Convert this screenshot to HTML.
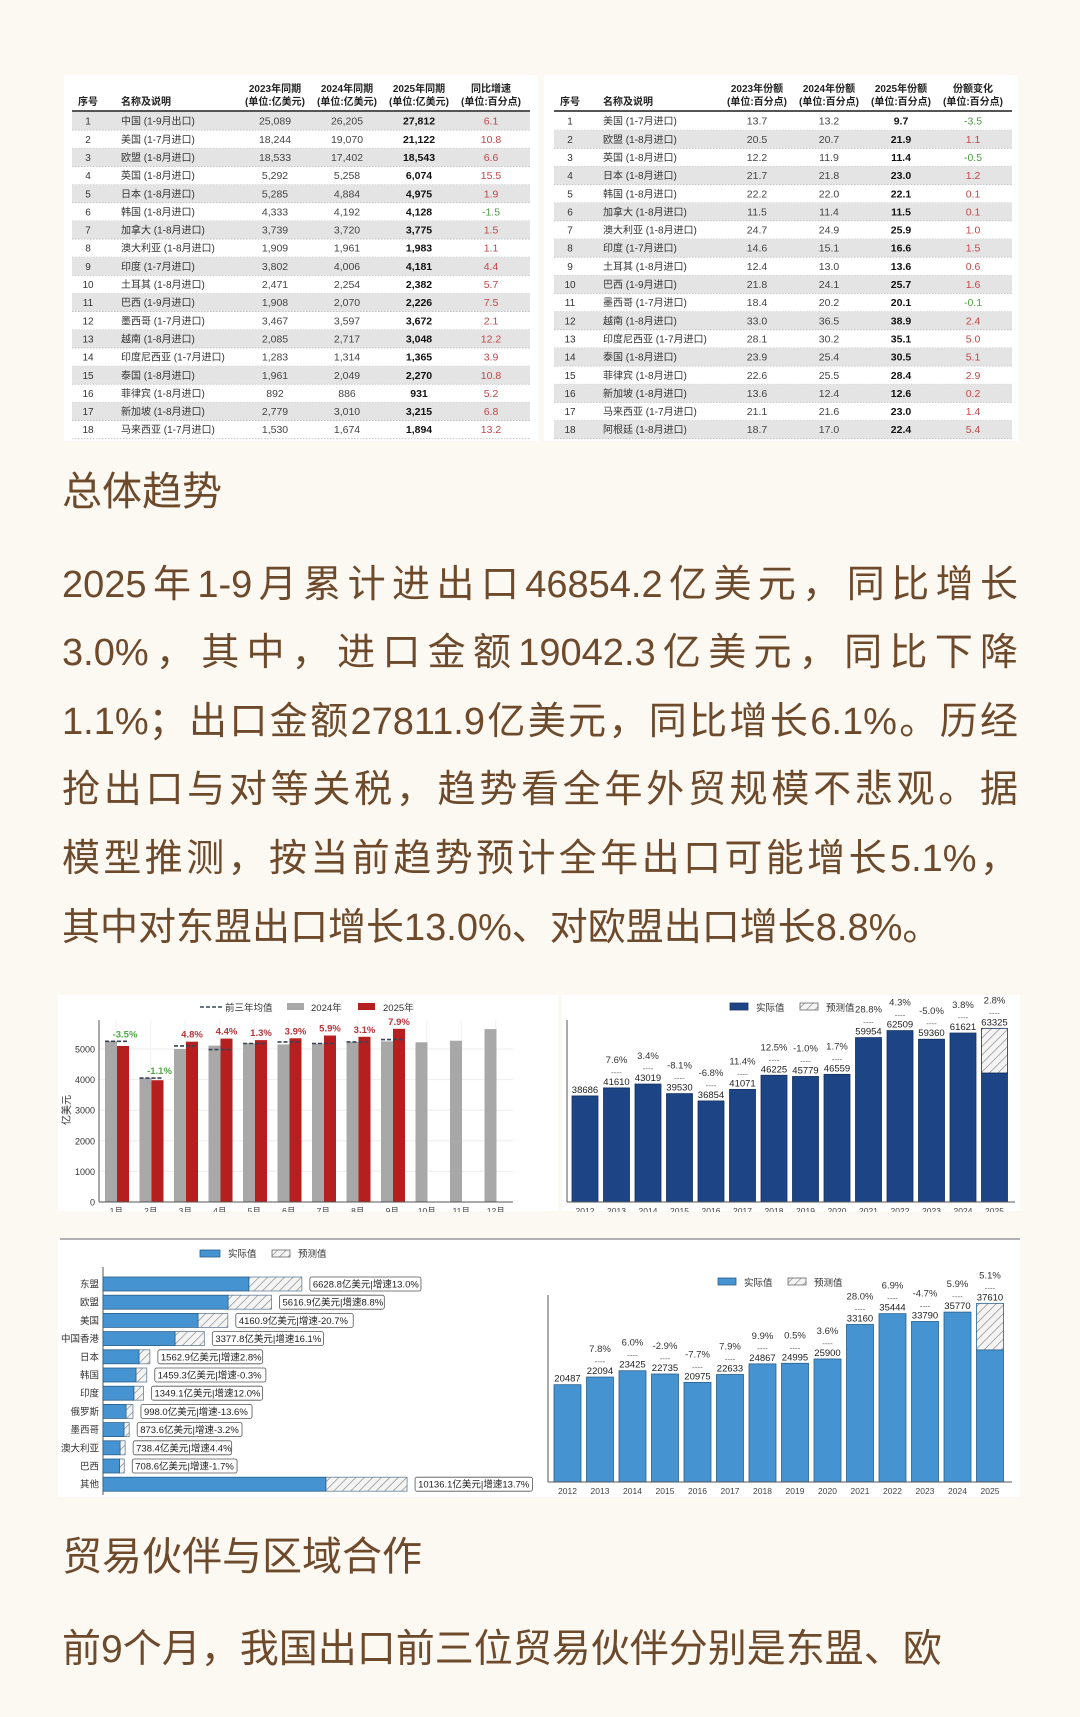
<!DOCTYPE html>
<html><head><meta charset="utf-8">
<style>
html,body{margin:0;padding:0;}
body{width:1080px;height:1717px;background:#fcf8f2;position:relative;overflow:hidden;font-family:"Liberation Sans","Noto Sans CJK SC",sans-serif;}
#art{position:absolute;left:0;top:0;}
.h{position:absolute;left:62px;font-size:40px;color:#6e4a2c;line-height:50px;white-space:nowrap;}
.p{position:absolute;left:62px;width:956px;font-size:38px;color:#6e4a2c;line-height:60px;white-space:nowrap;}
.j{text-align:justify;text-align-last:justify;}
</style></head>
<body>
<svg id="art" width="1080" height="1717" xmlns="http://www.w3.org/2000/svg" font-family="Liberation Sans, Noto Sans CJK SC, sans-serif">
<defs>
<pattern id="hatch" width="6" height="6" patternUnits="userSpaceOnUse" patternTransform="rotate(45)">
<rect width="6" height="6" fill="#f4f4f4"/><line x1="0" y1="0" x2="0" y2="6" stroke="#777" stroke-width="1.2"/>
</pattern>
</defs>
<rect x="64" y="75" width="474" height="366" fill="#fff"/>
<rect x="544" y="75" width="474" height="366" fill="#fff"/>
<g id="t1"></g>
<g id="t2"></g>
<rect x="58" y="995" width="500" height="216" fill="#fff"/>
<rect x="562" y="995" width="458" height="216" fill="#fff"/>
<g id="c1"></g>
<g id="c2"></g>
<rect x="0" y="1212" width="1080" height="26" fill="#fcf8f2"/>
<rect x="58" y="1239" width="962" height="258" fill="#fff"/>
<line x1="60" y1="1239" x2="1020" y2="1239" stroke="#999" stroke-width="1.5"/>
<g id="c3"></g>
<g id="c4"></g>
<rect x="0" y="1497" width="1080" height="30" fill="#fcf8f2"/>
</svg>

<div class="h" style="top:467px">总体趋势</div>
<div>
<div class="p j" style="top:555px">2025年1-9月累计进出口46854.2亿美元，同比增长</div>
<div class="p j" style="top:623px">3.0%，其中，进口金额19042.3亿美元，同比下降</div>
<div class="p j" style="top:692px">1.1%；出口金额27811.9亿美元，同比增长6.1%。历经</div>
<div class="p j" style="top:760px">抢出口与对等关税，趋势看全年外贸规模不悲观。据</div>
<div class="p j" style="top:829px">模型推测，按当前趋势预计全年出口可能增长5.1%，</div>
<div class="p" style="top:898px">其中对东盟出口增长13.0%、对欧盟出口增长8.8%。</div>
</div>
<div class="h" style="top:1532px">贸易伙伴与区域合作</div>
<div class="p" style="top:1620px;font-size:39px">前9个月，我国出口前三位贸易伙伴分别是东盟、欧</div>

<script>
// ---- table data ----
const t1Names=["中国 (1-9月出口)","美国 (1-7月进口)","欧盟 (1-8月进口)","英国 (1-8月进口)","日本 (1-8月进口)","韩国 (1-8月进口)","加拿大 (1-8月进口)","澳大利亚 (1-8月进口)","印度 (1-7月进口)","土耳其 (1-8月进口)","巴西 (1-9月进口)","墨西哥 (1-7月进口)","越南 (1-8月进口)","印度尼西亚 (1-7月进口)","泰国 (1-8月进口)","菲律宾 (1-8月进口)","新加坡 (1-8月进口)","马来西亚 (1-7月进口)"];
const t1Y23=["25,089","18,244","18,533","5,292","5,285","4,333","3,739","1,909","3,802","2,471","1,908","3,467","2,085","1,283","1,961","892","2,779","1,530"];
const t1Y24=["26,205","19,070","17,402","5,258","4,884","4,192","3,720","1,961","4,006","2,254","2,070","3,597","2,717","1,314","2,049","886","3,010","1,674"];
const t1Y25=["27,812","21,122","18,543","6,074","4,975","4,128","3,775","1,983","4,181","2,382","2,226","3,672","3,048","1,365","2,270","931","3,215","1,894"];
const t1Chg=["6.1","10.8","6.6","15.5","1.9","-1.5","1.5","1.1","4.4","5.7","7.5","2.1","12.2","3.9","10.8","5.2","6.8","13.2"];
const t2Names=["美国 (1-7月进口)","欧盟 (1-8月进口)","英国 (1-8月进口)","日本 (1-8月进口)","韩国 (1-8月进口)","加拿大 (1-8月进口)","澳大利亚 (1-8月进口)","印度 (1-7月进口)","土耳其 (1-8月进口)","巴西 (1-9月进口)","墨西哥 (1-7月进口)","越南 (1-8月进口)","印度尼西亚 (1-7月进口)","泰国 (1-8月进口)","菲律宾 (1-8月进口)","新加坡 (1-8月进口)","马来西亚 (1-7月进口)","阿根廷 (1-8月进口)"];
const t2Y23=["13.7","20.5","12.2","21.7","22.2","11.5","24.7","14.6","12.4","21.8","18.4","33.0","28.1","23.9","22.6","13.6","21.1","18.7"];
const t2Y24=["13.2","20.7","11.9","21.8","22.0","11.4","24.9","15.1","13.0","24.1","20.2","36.5","30.2","25.4","25.5","12.4","21.6","17.0"];
const t2Y25=["9.7","21.9","11.4","23.0","22.1","11.5","25.9","16.6","13.6","25.7","20.1","38.9","35.1","30.5","28.4","12.6","23.0","22.4"];
const t2Chg=["-3.5","1.1","-0.5","1.2","0.1","0.1","1.0","1.5","0.6","1.6","-0.1","2.4","5.0","5.1","2.9","0.2","1.4","5.4"];
const t1Head=[["序号",""],["名称及说明",""],["2023年同期","(单位:亿美元)"],["2024年同期","(单位:亿美元)"],["2025年同期","(单位:亿美元)"],["同比增速","(单位:百分点)"]];
const t2Head=[["序号",""],["名称及说明",""],["2023年份额","(单位:百分点)"],["2024年份额","(单位:百分点)"],["2025年份额","(单位:百分点)"],["份额变化","(单位:百分点)"]];

// ---- chart 1 data (monthly exports, 亿美元) ----
const months=["1月","2月","3月","4月","5月","6月","7月","8月","9月","10月","11月","12月"];
const v2024=[5260,4050,5000,5110,5190,5150,5180,5230,5250,5220,5270,5650];
const v2025=[5100,3980,5240,5340,5290,5350,5440,5400,5660];
const avg3=[5250,4050,5100,4980,5180,5230,5180,5230,5310];
const pct2025=["-3.5%","-1.1%","4.8%","4.4%","1.3%","3.9%","5.9%","3.1%","7.9%"];
const yTicks1=[0,1000,2000,3000,4000,5000];

// ---- chart 2 data (annual exports) ----
const years=["2012","2013","2014","2015","2016","2017","2018","2019","2020","2021","2022","2023","2024","2025"];
const exportTotal=[38686,41610,43019,39530,36854,41071,46225,45779,46559,59954,62509,59360,61621,63325];
const exportActual=[38686,41610,43019,39530,36854,41071,46225,45779,46559,59954,62509,59360,61621,47000];
const exportPct=["","7.6%","3.4%","-8.1%","-6.8%","11.4%","12.5%","-1.0%","1.7%","28.8%","4.3%","-5.0%","3.8%","2.8%"];

// ---- chart 3 data (partners) ----
const partners=["东盟","欧盟","美国","中国香港","日本","韩国","印度","俄罗斯","墨西哥","澳大利亚","巴西","其他"];
const partnerActual=[4860,4170,3170,2400,1200,1100,1030,770,700,570,550,7430];
const partnerTotal=[6628.8,5616.9,4160.9,3377.8,1562.9,1459.3,1349.1,998.0,873.6,738.4,708.6,10136.1];
const partnerGrowth=["13.0%","8.8%","-20.7%","16.1%","2.8%","-0.3%","12.0%","-13.6%","-3.2%","4.4%","-1.7%","13.7%"];

// ---- chart 4 data (annual imports) ----
const importTotal=[20487,22094,23425,22735,20975,22633,24867,24995,25900,33160,35444,33790,35770,37610];
const importActual=[20487,22094,23425,22735,20975,22633,24867,24995,25900,33160,35444,33790,35770,27800];
const importPct=["","7.8%","6.0%","-2.9%","-7.7%","7.9%","9.9%","0.5%","3.6%","28.0%","6.9%","-4.7%","5.9%","5.1%"];

const NS="http://www.w3.org/2000/svg";
function mk(parent,tag,attrs,txt){const e=document.createElementNS(NS,tag);for(const k in attrs)e.setAttribute(k,attrs[k]);if(txt!==undefined)e.textContent=txt;parent.appendChild(e);return e;}

// ---- tables ----
function table(g,x0,x1,cols,head,names,a,b,c,d,shadeOdd){
  head.forEach((h,i)=>{
    const anchor=i===1?'start':'middle';
    const t=mk(g,'text',{x:cols[i],y:h[1]?92:105,'font-size':10,'font-weight':'bold','text-anchor':anchor,fill:'#222'},h[0]);
    
    
    if(h[1]){const t2=mk(g,'text',{x:cols[i],y:105,'font-size':10,'font-weight':'bold','text-anchor':anchor,fill:'#222'},h[1]);
    
    }
  });
  const rh=18.15, y0=112;
  names.forEach((n,r)=>{
    const y=y0+r*rh;
    if((r%2===0)===shadeOdd){const bg=mk(g,'rect',{x:x0,y:y,width:x1-x0,height:rh,fill:'#e4e4e4'});
      
      }
    mk(g,'line',{x1:x0,x2:x1,y1:y+rh,y2:y+rh,stroke:'#bbb','stroke-dasharray':'1.5 1.5','stroke-width':0.8});
    const cy=y+rh/2+3.6;
    const row=mk(g,'g',{});
    
    
    mk(row,'text',{x:cols[0],y:cy,'font-size':10,'text-anchor':'middle',fill:'#333'},String(r+1));
    mk(row,'text',{x:cols[1],y:cy,'font-size':10,fill:'#333'},n);
    mk(row,'text',{x:cols[2],y:cy,'font-size':10.5,'text-anchor':'middle',fill:'#444'},a[r]);
    mk(row,'text',{x:cols[3],y:cy,'font-size':10.5,'text-anchor':'middle',fill:'#444'},b[r]);
    mk(row,'text',{x:cols[4],y:cy,'font-size':10.5,'font-weight':'bold','text-anchor':'middle',fill:'#111'},c[r]);
    const neg=d[r].charAt(0)==='-';
    mk(row,'text',{x:cols[5],y:cy,'font-size':10.5,'text-anchor':'middle',fill:neg?'#4f9a45':'#c0474a'},d[r]);
  });
  mk(g,'line',{x1:x0,x2:x1,y1:111,y2:111,stroke:'#555','stroke-width':2});
}
table(document.getElementById('t1'),72,530,[88,121,275,347,419,491],t1Head,t1Names,t1Y23,t1Y24,t1Y25,t1Chg,true);
table(document.getElementById('t2'),554,1012,[570,603,757,829,901,973],t2Head,t2Names,t2Y23,t2Y24,t2Y25,t2Chg,false);

// ---- chart 1 ----
(function(){
  const g=document.getElementById('c1');
  const base=1202, k=30.6/1000, left=99, right=513, gw=34.5;
  const Y=v=>base-v*k;
  yTicks1.forEach(t=>{
    mk(g,'line',{x1:left,x2:right,y1:Y(t),y2:Y(t),stroke:'#eee','stroke-width':1});
    const tx=mk(g,'text',{x:95,y:Y(t)+3.5,'font-size':9,'text-anchor':'end',fill:'#333'},String(t));
    
    
  });
  for(let i=0;i<12;i++){const x=left+i*gw+gw/2;mk(g,'line',{x1:x,x2:x,y1:1020,y2:base,stroke:'#f0f0f0'});}
  const yl=mk(g,'text',{x:0,y:0,'font-size':10,'text-anchor':'middle',fill:'#333',transform:'translate(70,1110) rotate(-90)'},'亿美元');
  
  
  v2024.forEach((v,i)=>{
    const x=left+i*gw+6;
    const r=mk(g,'rect',{x:x,y:Y(v),width:12,height:v*k,fill:'#a8a8a8'});
    
    
  });
  v2025.forEach((v,i)=>{
    const x=left+i*gw+18;
    const r=mk(g,'rect',{x:x,y:Y(v),width:12,height:v*k,fill:'#b51f1f'});
    
    
    const neg=pct2025[i].charAt(0)==='-';
    const t=mk(g,'text',{x:x+6+(neg?2:0),y:Math.min(Y(v),Y(avg3[i]))-4,'font-size':9.5,'font-weight':'bold','text-anchor':'middle',fill:neg?'#4fa845':'#b5353a'},pct2025[i]);
    
    
  });
  avg3.forEach((v,i)=>{
    const x=left+i*gw+6;
    const l=mk(g,'line',{x1:x,x2:x+24,y1:Y(v),y2:Y(v),stroke:'#3a4255','stroke-width':1.6,'stroke-dasharray':'4 2'});
    
    
  });
  mk(g,'line',{x1:left,x2:left,y1:1020,y2:base,stroke:'#555'});
  mk(g,'line',{x1:left,x2:right,y1:base,y2:base,stroke:'#555'});
  months.forEach((m,i)=>{
    const t=mk(g,'text',{x:left+i*gw+gw/2,y:base+12,'font-size':8.5,'text-anchor':'middle',fill:'#444'},m);
    
    
  });
  const lg=mk(g,'g',{});
  
  
  mk(lg,'line',{x1:200,x2:222,y1:1007,y2:1007,stroke:'#3a4255','stroke-width':1.5,'stroke-dasharray':'4 2'});
  mk(lg,'text',{x:225,y:1011,'font-size':9.5,fill:'#333'},'前三年均值');
  mk(lg,'rect',{x:287,y:1003,width:17,height:7,fill:'#a8a8a8'});
  mk(lg,'text',{x:311,y:1011,'font-size':9.5,fill:'#333'},'2024年');
  mk(lg,'rect',{x:358,y:1003,width:17,height:7,fill:'#b51f1f'});
  mk(lg,'text',{x:383,y:1011,'font-size':9.5,fill:'#333'},'2025年');
})();

// ---- vertical annual chart ----
function annual(g,base,k,x0,pitch,w,total,actual,pct,color,stroke,axisX0,axisX1,axisTop,legX,legY){
  mk(g,'line',{x1:axisX0,x2:axisX0,y1:axisTop,y2:base,stroke:'#555'});
  total.forEach((v,i)=>{
    const x=x0+i*pitch;
    const a=actual[i];
    if(v>a){const h=mk(g,'rect',{x:x,y:base-v*k,width:w,height:(v-a)*k,fill:'url(#hatch)',stroke:stroke,'stroke-width':0.8});
      
      }
    const r=mk(g,'rect',{x:x,y:base-a*k,width:w,height:a*k,fill:color,stroke:stroke,'stroke-width':0.8});
    
    
    const top=base-v*k, cx=x+w/2;
    const vt=mk(g,'text',{x:cx,y:top-3,'font-size':9.5,'text-anchor':'middle',fill:'#222'},String(v));
    
    
    if(pct[i]){
      mk(g,'text',{x:cx,y:top-13,'font-size':8,'text-anchor':'middle',fill:'#666'},'----');
      const pt=mk(g,'text',{x:cx,y:top-25,'font-size':9.5,'text-anchor':'middle',fill:'#333'},pct[i]);
      
      
    }
    const yt=mk(g,'text',{x:cx,y:base+12,'font-size':8.5,'text-anchor':'middle',fill:'#444'},years[i]);
    
    
  });
  mk(g,'line',{x1:axisX0,x2:axisX1,y1:base,y2:base,stroke:'#555'});
  const lg=mk(g,'g',{});
  
  
  mk(lg,'rect',{x:legX,y:legY-4,width:18,height:7,fill:color,stroke:stroke,'stroke-width':0.8});
  mk(lg,'text',{x:legX+26,y:legY+4,'font-size':9.5,fill:'#333'},'实际值');
  mk(lg,'rect',{x:legX+70,y:legY-4,width:18,height:7,fill:'url(#hatch)',stroke:'#666','stroke-width':0.8});
  mk(lg,'text',{x:legX+96,y:legY+4,'font-size':9.5,fill:'#333'},'预测值');
}
annual(document.getElementById('c2'),1202,0.002742,572,31.5,26,exportTotal,exportActual,exportPct,'#1d4586','#142f60',567,1015,1020,730,1007);
annual(document.getElementById('c4'),1482,0.00475,554,32.5,27,importTotal,importActual,importPct,'#4593d0','#2a5f8a',548,1012,1295,718,1282);

// ---- chart 3 horizontal ----
(function(){
  const g=document.getElementById('c3');
  const ax=103, k=0.030, y0=1284, step=18.2, h=14;
  mk(g,'line',{x1:ax,x2:ax,y1:1267,y2:1495,stroke:'#555'});
  partners.forEach((p,i)=>{
    const cy=y0+i*step;
    const a=partnerActual[i], t=partnerTotal[i];
    const hb=mk(g,'rect',{x:ax+a*k,y:cy-h/2,width:(t-a)*k,height:h,fill:'url(#hatch)',stroke:'#6a7f95','stroke-width':0.8});
    
    
    const r=mk(g,'rect',{x:ax,y:cy-h/2,width:a*k,height:h,fill:'#4593d0',stroke:'#2a5f8a','stroke-width':0.8});
    
    
    const lb=mk(g,'text',{x:99,y:cy+3.5,'font-size':9.5,'text-anchor':'end',fill:'#333'},p);
    
    
    const label=t.toFixed(1)+'亿美元|增速'+partnerGrowth[i];
    const bx=ax+t*k+8;
    const bw=label.length*6.3+4;
    const box=mk(g,'rect',{x:bx,y:cy-7,width:bw,height:14,rx:2,fill:'#fff',stroke:'#555','stroke-width':0.8});
    
    
    mk(g,'text',{x:bx+3,y:cy+3.5,'font-size':9.5,fill:'#222'},label);
  });
  const lg=mk(g,'g',{});
  
  
  mk(lg,'rect',{x:200,y:1250,width:20,height:7,fill:'#4593d0',stroke:'#2a5f8a','stroke-width':0.8});
  mk(lg,'text',{x:228,y:1257,'font-size':9.5,fill:'#333'},'实际值');
  mk(lg,'rect',{x:272,y:1250,width:18,height:7,fill:'url(#hatch)',stroke:'#666','stroke-width':0.8});
  mk(lg,'text',{x:298,y:1257,'font-size':9.5,fill:'#333'},'预测值');
})();
</script>
</body></html>
